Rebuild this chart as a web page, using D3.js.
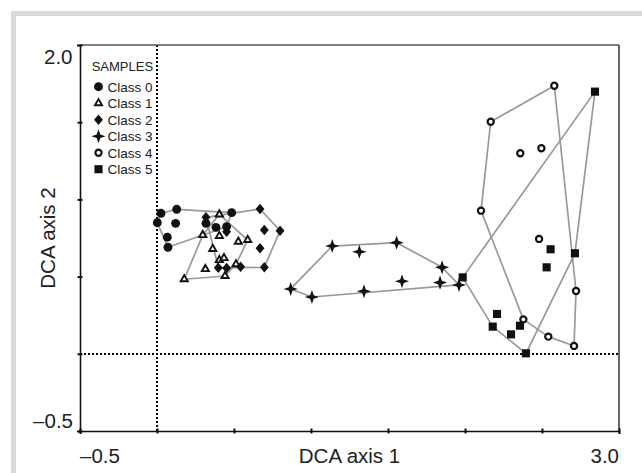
<!DOCTYPE html>
<html>
<head>
<meta charset="utf-8">
<script src="https://cdn.jsdelivr.net/npm/d3@7"></script>
<style>
  html, body { margin: 0; padding: 0; background: #fff; }
  svg { display: block; font-family: "Liberation Sans", Arial, Helvetica, sans-serif; }
</style>
</head>
<body>
<svg id="chart" width="642" height="473"></svg>
<script>
// ---------- data (DCA scores) ----------
const classNames = ["Class 0", "Class 1", "Class 2", "Class 3", "Class 4", "Class 5"];
const legendTitle = "SAMPLES";
const xAxisTitle = "DCA axis 1";
const yAxisTitle = "DCA axis 2";
const xDomain = [-0.5, 3.0];
const yDomain = [-0.5, 2.0];
const xTickValues = [-0.5, 0, 0.5, 1.0, 1.5, 2.0, 2.5, 3.0];
const yTickValues = [-0.5, 0, 0.5, 1.0, 1.5, 2.0];
const xTickLabels = ["\u20130.5", "3.0"];
const yTickLabels = ["2.0", "\u20130.5"];

const class0 = [[0.026,0.910],[0.128,0.936],[0.002,0.849],[0.121,0.845],[0.067,0.755],[0.071,0.690],[0.485,0.914],[0.318,0.845],[0.383,0.819],[0.452,0.823]];
const class1 = [[0.405,0.903],[0.297,0.769],[0.405,0.763],[0.362,0.679],[0.314,0.549],[0.405,0.607],[0.435,0.620],[0.528,0.726],[0.589,0.737],[0.442,0.504],[0.177,0.483],[0.513,0.580]];
const class2 = [[0.318,0.884],[0.669,0.938],[0.697,0.802],[0.799,0.797],[0.669,0.683],[0.697,0.560],[0.543,0.564],[0.452,0.556],[0.398,0.558],[0.452,0.791]];
const class3 = [[0.868,0.420],[1.006,0.368],[1.138,0.698],[1.314,0.661],[1.556,0.720],[1.851,0.560],[1.838,0.461],[1.591,0.470],[1.344,0.405],[1.961,0.446]];
const class4 = [[2.580,1.736],[2.167,1.503],[2.359,1.299],[2.496,1.331],[2.104,0.927],[2.481,0.744],[2.721,0.407],[2.379,0.223],[2.541,0.111],[2.708,0.051]];
const class5 = [[2.844,1.698],[2.714,0.651],[2.556,0.677],[2.530,0.560],[1.985,0.495],[2.208,0.258],[2.180,0.176],[2.299,0.126],[2.357,0.182],[2.396,0.003]];
const classData = [class0, class1, class2, class3, class4, class5];

// ---------- layout ----------
const svg = d3.select("#chart");
const pL = 80, pR = 619, pT = 45, pB = 431;
const x = d3.scaleLinear().domain(xDomain).range([pL, pR]);
const y = d3.scaleLinear().domain(yDomain).range([pB, pT]);

// outer light-grey frame
svg.append("rect").attr("x", 11).attr("y", 11).attr("width", 631).attr("height", 5).attr("fill", "#d9d9d9");
svg.append("rect").attr("x", 11).attr("y", 11).attr("width", 5).attr("height", 462).attr("fill", "#d9d9d9");

// ---------- custom symbols ----------
const star4 = {
  draw(ctx, size) {
    const R = Math.sqrt(size) * 0.62, r = R * 0.36;
    for (let i = 0; i < 8; i++) {
      const a = -Math.PI / 2 + i * Math.PI / 4;
      const rr = i % 2 === 0 ? R : r;
      const px = rr * Math.cos(a), py = rr * Math.sin(a);
      if (i === 0) ctx.moveTo(px, py); else ctx.lineTo(px, py);
    }
    ctx.closePath();
  }
};
const diamond = {
  draw(ctx, size) {
    const h = Math.sqrt(size) * 0.6, w = h * 0.85;
    ctx.moveTo(0, -h); ctx.lineTo(w, 0); ctx.lineTo(0, h); ctx.lineTo(-w, 0); ctx.closePath();
  }
};
const symStyles = [
  { type: d3.symbolCircle, size: 62, fill: "#111", stroke: "none", sw: 0 },
  { type: d3.symbolTriangle, size: 22, fill: "#fff", stroke: "#111", sw: 1.9 },
  { type: diamond, size: 76, fill: "#111", stroke: "none", sw: 0 },
  { type: star4, size: 130, fill: "#111", stroke: "none", sw: 0 },
  { type: d3.symbolCircle, size: 30, fill: "#fff", stroke: "#111", sw: 2.2 },
  { type: d3.symbolSquare, size: 66, fill: "#111", stroke: "none", sw: 0 }
];

// ---------- reference dotted lines ----------
const x0 = Math.round(x(0)), y0 = Math.round(y(0));
svg.append("line").attr("x1", x0).attr("x2", x0).attr("y1", pT).attr("y2", pB)
  .attr("stroke", "#000").attr("stroke-width", 2).attr("stroke-dasharray", "2,2");
svg.append("line").attr("x1", pL).attr("x2", pR).attr("y1", y0).attr("y2", y0)
  .attr("stroke", "#000").attr("stroke-width", 2).attr("stroke-dasharray", "2,2");

// top and right frame
svg.append("line").attr("x1", pL).attr("x2", pR).attr("y1", pT).attr("y2", pT)
  .attr("stroke", "#555").attr("stroke-width", 1.6);
svg.append("line").attr("x1", pR).attr("x2", pR).attr("y1", pT).attr("y2", pB)
  .attr("stroke", "#555").attr("stroke-width", 1.8);

// ---------- axes ----------
const xAxis = svg.append("g").attr("transform", `translate(0,${pB})`)
  .call(d3.axisBottom(x).tickValues(xTickValues).tickFormat("").tickSizeOuter(0).tickSize(3));
const yAxis = svg.append("g").attr("transform", `translate(${pL},0)`)
  .call(d3.axisLeft(y).tickValues(yTickValues).tickFormat("").tickSizeOuter(0).tickSize(3));
xAxis.select(".domain").attr("stroke", "#111").attr("stroke-width", 1.6);
yAxis.select(".domain").attr("stroke", "#111").attr("stroke-width", 1.6);
xAxis.selectAll(".tick line").attr("y1", -2.5).attr("y2", 2.5).attr("stroke", "#111").attr("stroke-width", 2);
yAxis.selectAll(".tick line").attr("x1", -2.5).attr("x2", 2.5).attr("stroke", "#111").attr("stroke-width", 2);

// tick labels (only the extremes are labelled)
const fs = 20.5;
svg.append("text").attr("x", x(xDomain[0])).attr("y", 463).attr("text-anchor", "start")
  .attr("font-size", fs).attr("fill", "#222").text(xTickLabels[0]);
svg.append("text").attr("x", x(xDomain[1])).attr("y", 463).attr("text-anchor", "end")
  .attr("font-size", fs).attr("fill", "#222").text(xTickLabels[1]);
svg.append("text").attr("x", 72.5).attr("y", y(yDomain[1]) + 18.5).attr("text-anchor", "end")
  .attr("font-size", fs).attr("fill", "#222").text(yTickLabels[0]);
svg.append("text").attr("x", 73).attr("y", y(yDomain[0]) - 3).attr("text-anchor", "end")
  .attr("font-size", fs).attr("fill", "#222").text(yTickLabels[1]);

// axis titles
svg.append("text").attr("x", (pL + pR) / 2).attr("y", 463).attr("text-anchor", "middle")
  .attr("font-size", fs).attr("fill", "#222").text(xAxisTitle);
svg.append("text").attr("transform", `translate(54.5,${(pT + pB) / 2}) rotate(-90)`)
  .attr("text-anchor", "middle").attr("font-size", fs).attr("fill", "#222").text(yAxisTitle);

// ---------- hull polygons ----------
const line = d3.line().x(d => x(d[0])).y(d => y(d[1])).curve(d3.curveLinearClosed);
const hullG = svg.append("g");
classData.forEach(pts => {
  const hull = d3.polygonHull(pts);
  hullG.append("path").attr("d", line(hull)).attr("fill", "none")
    .attr("stroke", "#999").attr("stroke-width", 1.7).attr("stroke-linejoin", "round");
});

// ---------- points ----------
const ptG = svg.append("g");
classData.forEach((pts, ci) => {
  const s = symStyles[ci];
  const gen = d3.symbol().type(s.type).size(s.size);
  ptG.selectAll(null).data(pts).enter().append("path")
    .attr("transform", d => `translate(${x(d[0])},${y(d[1])})`)
    .attr("d", gen)
    .attr("fill", s.fill).attr("stroke", s.stroke).attr("stroke-width", s.sw);
});

// ---------- legend ----------
const lg = svg.append("g");
lg.append("text").attr("x", 91.7).attr("y", 70.7).attr("font-size", 13).attr("fill", "#222").text(legendTitle);
classNames.forEach((name, i) => {
  const cy = 86.7 + i * 16.5;
  const s = symStyles[i];
  lg.append("path").attr("transform", `translate(98.5,${cy})`)
    .attr("d", d3.symbol().type(s.type).size(s.size)())
    .attr("fill", s.fill).attr("stroke", s.stroke).attr("stroke-width", s.sw);
  lg.append("text").attr("x", 107.5).attr("y", cy + 4.8).attr("font-size", 13.5).attr("fill", "#222").text(name);
});
</script>
</body>
</html>
